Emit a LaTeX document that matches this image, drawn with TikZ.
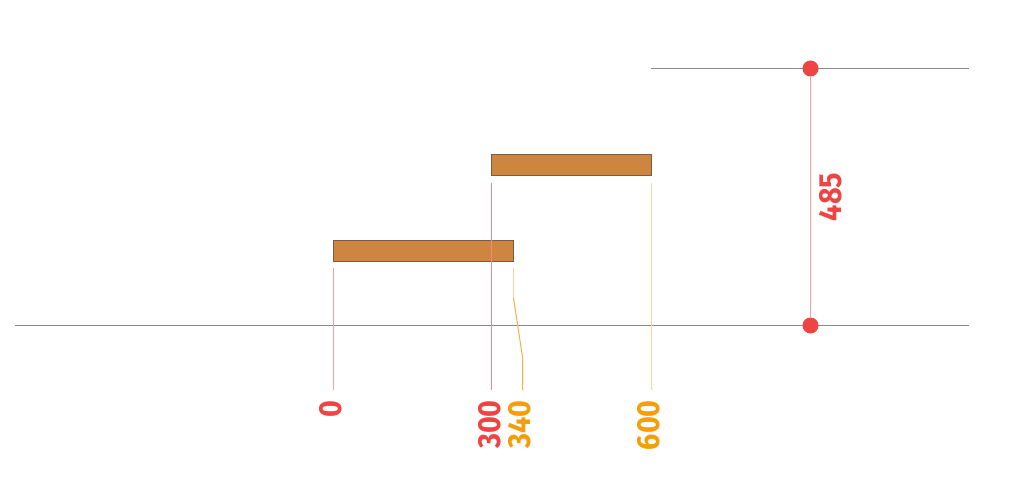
\documentclass[tikz,border=0pt]{standalone}
\usepackage{fontspec}
\newfontfamily\lblfont[FakeStretch=0.9]{Fira Sans Bold}
\definecolor{axisgray}{HTML}{8A8A8A}
\definecolor{lblred}{HTML}{EF4444}
\definecolor{lblorange}{HTML}{F59E0B}
\definecolor{pinkline}{HTML}{F5A0A0}
\definecolor{redline}{HTML}{EE8A8A}
\definecolor{paleorange}{HTML}{FCD59A}
\definecolor{midorange}{HTML}{F6B240}
\definecolor{barfill}{HTML}{CD853F}
\definecolor{barborder}{HTML}{7A5C40}
\tikzset{
  axis/.style={draw=axisgray, line width=0.9pt},
  bar/.style={draw=barborder, fill=barfill, line width=0.6pt, inner sep=0pt, outer sep=0pt, rectangle},
  dot/.style={circle, fill=lblred, inner sep=0pt, minimum size=16pt},
  tick/.style={line width=1pt},
  lbl/.style={font=\lblfont\fontsize{32}{32}\selectfont, rotate=90, anchor=east, inner sep=0pt}
}
\begin{document}
\begin{tikzpicture}[x=1pt,y=-1pt]
\useasboundingbox[fill=white] (0,0) rectangle (1024,486);
% axis lines
\coordinate (axL) at (15,325.5);
\coordinate (axR) at (969,325.5);
\coordinate (topL) at (651,68.5);
\coordinate (topR) at (969,68.5);
\draw[axis] (axL) -- (axR);
\draw[axis] (topL) -- (topR);
% bars
\node[bar, minimum width=180pt, minimum height=21pt] (b1) at (423,250.5) {};
\node[bar, minimum width=160pt, minimum height=21pt] (b2) at (571,164.5) {};
% tick lines
\coordinate (t0a) at (333.5,268);
\coordinate (t0b) at (333.5,390);
\coordinate (t300a) at (491.5,183);
\coordinate (t300b) at (491.5,390);
\coordinate (t340a) at (513.5,268);
\coordinate (t340m) at (513.5,298);
\coordinate (t340n) at (522.5,357);
\coordinate (t340b) at (522.5,390);
\coordinate (t600a) at (651.5,183);
\coordinate (t600b) at (651.5,390);
\draw[tick, pinkline] (t0a) -- (t0b);
\draw[tick, redline] (t300a) -- (t300b);
\draw[tick, paleorange] (t600a) -- (t600b);
\draw[tick, paleorange] (t340a) -- (t340m);
\draw[tick, midorange] (t340m) -- (t340n) -- (t340b);
% labels
\node[lbl, text=lblred] (l0) at (331,400) {0};
\node[lbl, text=lblred] (l300) at (490,400) {300};
\node[lbl, text=lblorange] (l340) at (520,400) {340};
\node[lbl, text=lblorange] (l600) at (649,400) {600};
% height dimension
\node[dot] (dtop) at (810.5,68.5) {};
\node[dot] (dbot) at (810.5,325.5) {};
\draw[tick, pinkline] (dtop) -- (dbot);
\node[lbl, text=lblred, anchor=center] (l485) at (830.5,197) {485};
\end{tikzpicture}
\end{document}
